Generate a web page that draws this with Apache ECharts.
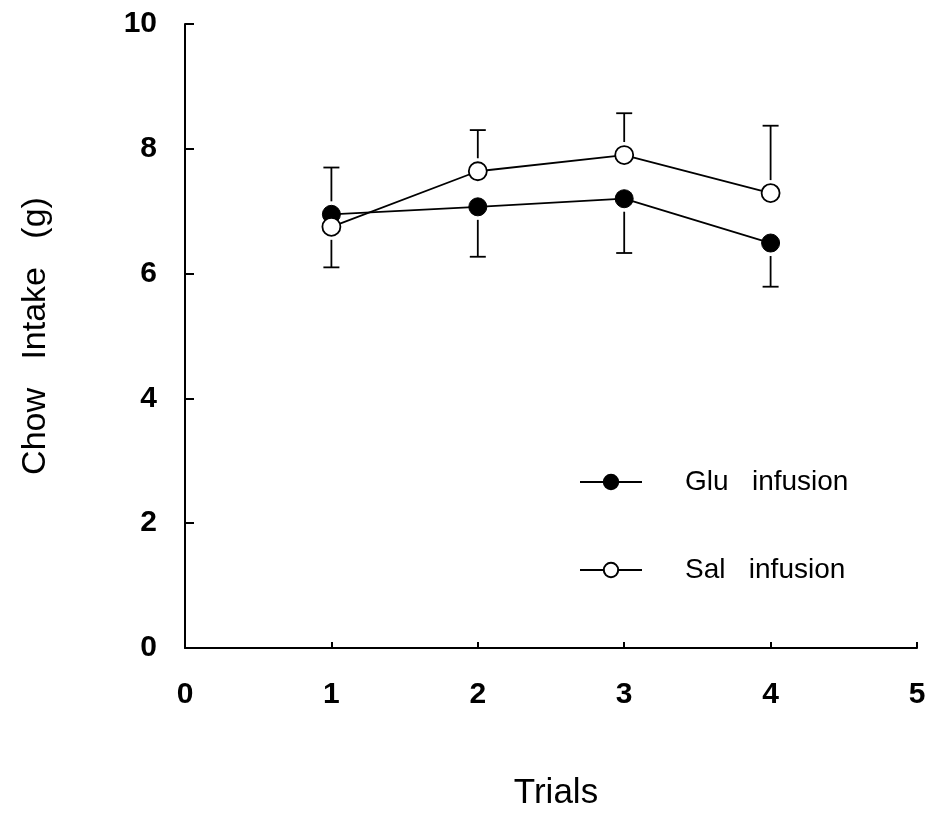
<!DOCTYPE html>
<html>
<head>
<meta charset="utf-8">
<script src="https://cdn.jsdelivr.net/npm/echarts@6/dist/echarts.min.js"></script>
<style>
  html, body { margin: 0; padding: 0; background: #fff; }
  #chart { width: 932px; height: 823px; }
</style>
</head>
<body>
<div id="chart"></div>
<script>
// Chow intake per trial, mean and one-sided SEM bar
const trials = [1, 2, 3, 4];
const gluMean = [6.95, 7.07, 7.20, 6.49];
const gluErr  = [0.75, 0.80, 0.87, 0.70];
const salMean = [6.75, 7.64, 7.90, 7.29];
const salErr  = [0.65, 0.66, 0.67, 1.08];
// which way each trial's bar points (+1 up, -1 down)
const gluDir = [1, -1, -1, -1];
const salDir = [-1, 1, 1, 1];

const xTicks = [0, 1, 2, 3, 4, 5];
const yTicks = [0, 2, 4, 6, 8, 10];

const FONT = '"Liberation Sans", Arial, Helvetica, sans-serif';
const MARK = 18;

function errData(means, errs, dirs) {
  return trials.map((t, i) => [t, means[i], means[i] + dirs[i] * errs[i], dirs[i]]);
}

function renderErr(params, api) {
  const x = api.value(0);
  const m = api.coord([x, api.value(1)]);
  const e = api.coord([x, api.value(2)]);
  const dir = api.value(3);
  const gap = MARK / 2 + 4;
  const startY = m[1] - dir * gap;
  const cap = 8;
  return {
    type: 'group',
    children: [
      { type: 'line', shape: { x1: m[0], y1: startY, x2: e[0], y2: e[1] },
        style: { stroke: '#000', lineWidth: 1.8 } },
      { type: 'line', shape: { x1: e[0] - cap, y1: e[1], x2: e[0] + cap, y2: e[1] },
        style: { stroke: '#000', lineWidth: 1.8 } }
    ]
  };
}

const chart = echarts.init(document.getElementById('chart'));
chart.setOption({
  animation: false,
  backgroundColor: '#fff',
  grid: { left: 185, right: 15, top: 24, bottom: 175, containLabel: false, outerBoundsMode: 'none' },
  xAxis: {
    type: 'value', min: 0, max: 5, interval: 1,
    name: 'Trials', nameLocation: 'middle', nameGap: 128,
    nameTextStyle: { fontFamily: FONT, fontSize: 35, color: '#000', padding: [0, 0, 0, 10] },
    axisLine: { lineStyle: { color: '#000', width: 2 } },
    axisTick: { inside: true, length: 6, lineStyle: { color: '#000', width: 2 },
      customValues: xTicks },
    axisLabel: { margin: 32, fontFamily: FONT, fontSize: 30, fontWeight: 'bold', color: '#000',
      customValues: xTicks },
    splitLine: { show: false }
  },
  yAxis: {
    type: 'value', min: 0, max: 10, interval: 2,
    name: 'Chow   Intake   (g)', nameLocation: 'middle', nameGap: 132,
    nameTextStyle: { fontFamily: FONT, fontSize: 34, color: '#000' },
    axisLine: { lineStyle: { color: '#000', width: 2 } },
    axisTick: { inside: true, length: 9, lineStyle: { color: '#000', width: 2 },
      customValues: yTicks },
    axisLabel: { margin: 28, fontFamily: FONT, fontSize: 30, fontWeight: 'bold', color: '#000',
      customValues: yTicks },
    splitLine: { show: false }
  },
  legend: {
    orient: 'vertical', left: 574, top: 463,
    itemWidth: 62, itemHeight: 18, itemGap: 60,
    data: ['Glu infusion', 'Sal infusion'],
    formatter: name => name.replace(' ', '   '),
    textStyle: { fontFamily: FONT, fontSize: 28, color: '#000', padding: [0, 0, 0, 38] }
  },
  series: [
    { type: 'custom', name: 'gluErr', renderItem: renderErr, data: errData(gluMean, gluErr, gluDir),
      encode: { x: 0, y: [1, 2] }, silent: true, z: 1 },
    { type: 'custom', name: 'salErr', renderItem: renderErr, data: errData(salMean, salErr, salDir),
      encode: { x: 0, y: [1, 2] }, silent: true, z: 1 },
    { type: 'line', name: 'Glu infusion', data: trials.map((t, i) => [t, gluMean[i]]),
      symbol: 'circle', symbolSize: MARK, z: 3,
      lineStyle: { color: '#000', width: 1.8 },
      itemStyle: { color: '#000', borderColor: '#000', borderWidth: 1 } },
    { type: 'line', name: 'Sal infusion', data: trials.map((t, i) => [t, salMean[i]]),
      symbol: 'circle', symbolSize: MARK, z: 4,
      lineStyle: { color: '#000', width: 1.8 },
      itemStyle: { color: '#fff', borderColor: '#000', borderWidth: 1.8 } }
  ]
});
</script>
</body>
</html>
